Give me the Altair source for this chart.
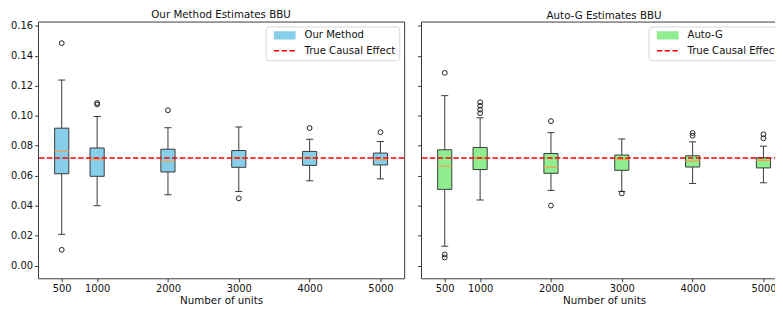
import altair as alt
import pandas as pd

positions = [500, 1000, 2000, 3000, 4000, 5000]

ours_label = "Our Method"
ours_q1 = [0.0613, 0.0596, 0.0625, 0.0656, 0.0669, 0.0672]
ours_med = [0.0762, 0.0707, 0.0694, 0.0719, 0.0719, 0.0707]
ours_q3 = [0.0917, 0.0785, 0.0777, 0.0768, 0.0762, 0.0751]
ours_lo = [0.0209, 0.0400, 0.0473, 0.0495, 0.0566, 0.0579]
ours_hi = [0.1238, 0.0995, 0.0920, 0.0925, 0.0843, 0.0828]
ours_out = [[0.1484, 0.0106], [0.1075, 0.1085], [0.1037], [0.0449], [0.0918], [0.0890]]

autog_label = "Auto-G"
autog_q1 = [0.0509, 0.0641, 0.0616, 0.0636, 0.0658, 0.0652]
autog_med = [0.0665, 0.0718, 0.0656, 0.0709, 0.0698, 0.0702]
autog_q3 = [0.0773, 0.0788, 0.0748, 0.0738, 0.0733, 0.0720]
autog_lo = [0.0130, 0.0438, 0.0502, 0.0495, 0.0548, 0.0553]
autog_hi = [0.1134, 0.0986, 0.0887, 0.0845, 0.0826, 0.0797]
autog_out = [[0.1286, 0.0075, 0.0055], [0.1090, 0.1066, 0.1041, 0.1017],
             [0.0964, 0.0401], [0.0482], [0.0885, 0.0867], [0.0876, 0.0850]]

true_label = "True Causal Effect"
true_effect = 0.0718

y_ticks = [0.0, 0.02, 0.04, 0.06, 0.08, 0.10, 0.12, 0.14, 0.16]

X_DOMAIN = [165, 5335]
Y_DOMAIN = [-0.0084, 0.1628]
HALF_BOX = 100
HALF_CAP = 50
FONT = "DejaVu Sans"
EDGE = "#3a3a3a"


def panel(title, label, fill, q1, med, q3, lo, hi, outl, show_labels):
    bd = pd.DataFrame({"pos": positions, "q1": q1, "med": med, "q3": q3, "lo": lo, "hi": hi})
    fd = pd.DataFrame([{"pos": p, "v": v} for p, vals in zip(positions, outl) for v in vals])
    td = pd.DataFrame({"series": [true_label], "v": [true_effect]})

    xscale = alt.Scale(domain=X_DOMAIN, nice=False, zero=False)
    yscale = alt.Scale(domain=Y_DOMAIN, nice=False, zero=False)
    xaxis = alt.Axis(values=positions, format="d", title="Number of units", grid=False)
    if show_labels:
        yaxis = alt.Axis(values=y_ticks, format=".2f", title=None, grid=False)
    else:
        yaxis = alt.Axis(values=y_ticks, labels=False, title=None, grid=False)

    def X(f):
        return alt.X(f, scale=xscale, axis=xaxis, title="Number of units")

    def Y(f):
        return alt.Y(f, scale=yscale, axis=yaxis, title=None)

    base = alt.Chart(bd).transform_calculate(
        xl=f"datum.pos - {HALF_BOX}", xr=f"datum.pos + {HALF_BOX}",
        cl=f"datum.pos - {HALF_CAP}", cr=f"datum.pos + {HALF_CAP}",
    )

    whisk_hi = base.mark_rule(color=EDGE, strokeWidth=1).encode(x=X("pos:Q"), y=Y("q3:Q"), y2="hi:Q")
    whisk_lo = base.mark_rule(color=EDGE, strokeWidth=1).encode(x=X("pos:Q"), y=Y("lo:Q"), y2="q1:Q")
    cap_hi = base.mark_rule(color=EDGE, strokeWidth=1).encode(x=X("cl:Q"), x2="cr:Q", y=Y("hi:Q"))
    cap_lo = base.mark_rule(color=EDGE, strokeWidth=1).encode(x=X("cl:Q"), x2="cr:Q", y=Y("lo:Q"))
    boxes = base.mark_rect(fill=fill, stroke=EDGE, strokeWidth=1).encode(
        x=X("xl:Q"), x2="xr:Q", y=Y("q1:Q"), y2="q3:Q")
    medians = base.mark_rule(color="#f0a050", strokeWidth=1.2).encode(
        x=X("xl:Q"), x2="xr:Q", y=Y("med:Q"))
    fliers = alt.Chart(fd).mark_point(shape="circle", filled=False, size=24, color="#222",
                                      strokeWidth=1, opacity=1).encode(x=X("pos:Q"), y=Y("v:Q"))

    dom = [label, true_label]
    leg = alt.Legend(title=None, orient="top-right", offset=5, symbolType="stroke", symbolSize=484,
                     clipHeight=10.4,
                     labelFont=FONT, labelFontSize=10.2, labelColor="#111", labelOffset=4.5,
                     padding=3.8, rowPadding=4.6, strokeColor="#d8d8d8", fillColor="white",
                     cornerRadius=3, labelLimit=300)
    true_line = alt.Chart(td).mark_rule().encode(
        y=Y("v:Q"),
        stroke=alt.Stroke("series:N", scale=alt.Scale(domain=dom, range=[fill, "red"]), legend=leg),
        strokeWidth=alt.StrokeWidth("series:N", scale=alt.Scale(type="ordinal", domain=dom, range=[8.4, 1.5]), legend=leg),
        strokeDash=alt.StrokeDash("series:N", scale=alt.Scale(domain=dom, range=[[1, 0], [5.5, 2.4]]), legend=leg),
    )

    return alt.layer(boxes, whisk_hi, whisk_lo, cap_hi, cap_lo, medians, fliers, true_line).properties(
        width=370, height=259.4,
        title=alt.TitleParams(title, font=FONT, fontSize=10.4, fontWeight="normal", color="#111", offset=0.3),
    )


left = panel("Our Method Estimates BBU", ours_label, "#87CEEB", ours_q1, ours_med, ours_q3,
             ours_lo, ours_hi, ours_out, True)
right = panel("Auto-G Estimates BBU", autog_label, "#90EE90", autog_q1, autog_med, autog_q3,
              autog_lo, autog_hi, autog_out, False)

chart = alt.hconcat(left, right, spacing=10).resolve_scale(
    x="independent", y="independent", stroke="independent", strokeWidth="independent",
    strokeDash="independent",
).resolve_legend(stroke="independent", strokeWidth="independent", strokeDash="independent").properties(
    autosize=alt.AutoSizeParams(type="none"),
    padding={"left": 30.3, "top": 10.8, "right": 744.7, "bottom": 288.2},
).configure_view(stroke=EDGE, strokeWidth=1).configure_axis(
    domain=False, tickColor=EDGE, tickSize=3.5, labelPadding=2,
    labelFont=FONT, labelFontSize=10, labelColor="#111",
    titleFont=FONT, titleFontSize=10.4, titleFontWeight="normal", titleColor="#111", titlePadding=2,
)

chart.save("out.html", embed_options={"renderer": "svg", "actions": False})
